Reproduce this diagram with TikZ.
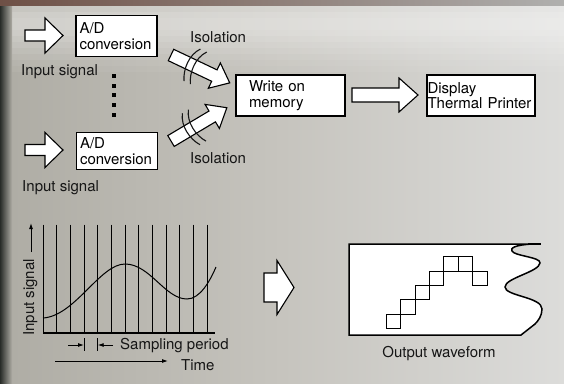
\documentclass[tikz,border=0pt]{standalone}
\usepackage{fontspec}
\setmainfont{TeX Gyre Heros}
\usetikzlibrary{arrows.meta}
\definecolor{bgL}{RGB}{174,172,164}
\definecolor{bgM}{RGB}{198,196,190}
\definecolor{bgR}{RGB}{220,220,218}
\definecolor{ink}{RGB}{22,22,22}
\definecolor{edgeL}{RGB}{40,44,40}
\definecolor{edgeT}{RGB}{110,80,70}
\tikzset{
  lbl/.style={font=\fontsize{15}{15.5}\selectfont, text=ink, inner sep=0pt},
  boxnode/.style={draw=black, fill=white, line width=1.6pt, rectangle, align=left,
    inner ysep=0pt, font=\fontsize{15}{15.5}\selectfont, text=black},
  barrow/.style={draw=black, fill=white, line width=1.1pt, line join=miter},
  isomark/.style={draw=ink, line width=1.1pt},
  grid line/.style={draw=black, line width=0.9pt},
  thin arrow/.style={draw=black, line width=0.9pt, -{Latex[length=6pt,width=4pt]}},
  sq/.style={draw=black, line width=1.1pt}
}
\newcommand{\blockarr}[7]{% tail x, tail y, canvas angle, length, shaft hw, head hw, head length
  \begin{scope}[shift={(#1,#2)},rotate=#3]
    \draw[barrow] (0,-#5) -- ({#4-#7},-#5) -- ({#4-#7},-#6) -- (#4,0) -- ({#4-#7},#6) -- ({#4-#7},#5) -- (0,#5) -- cycle;
  \end{scope}}
\newcommand{\isoarr}[3]{% tail x, tail y, canvas angle
  \begin{scope}[shift={(#1,#2)},rotate=#3]
    \draw[barrow] (0,-6.3) -- (48,-6.3) -- (48,-14) -- (65,0) -- (48,14) -- (48,6.3) -- (0,6.3) -- cycle;
    \draw[isomark] (24,-18) .. controls (16,-8) and (17,8) .. (23,18);
    \draw[isomark] (31,-18) .. controls (23,-8) and (24,8) .. (30,18);
  \end{scope}}
\begin{document}
\begin{tikzpicture}[x=1pt,y=-1pt]
% background
\useasboundingbox (0,0) rectangle (564,383);
\shade[left color=bgL, right color=bgR, middle color=bgM] (0,0) rectangle (564,383);
\foreach \yy/\op in {6/0.30,12/0.38,18/0.42,24/0.42,30/0.38,36/0.32,42/0.26,48/0.20,54/0.14,60/0.09,66/0.05}
  \fill[white, fill opacity=\op] (0,\yy) rectangle (564,\yy+6);
\shade[left color=edgeL, right color=bgL] (0,0) rectangle (12,383);
\shade[left color=edgeT, right color=bgR!80!black] (0,0) rectangle (564,5);

% ---------- top block diagram ----------
\node[boxnode, minimum width=81pt, minimum height=41pt, text width=74pt, inner xsep=3.5pt] (ad1) at (116.5,36) {A/D\\conversion};
\node[boxnode, minimum width=81pt, minimum height=37pt, text width=74pt, inner xsep=3.5pt] (ad2) at (117,151) {A/D\\conversion};
\node[boxnode, minimum width=109pt, minimum height=41pt, text width=83pt, inner xsep=13pt] (mem) at (290.5,95.5) {Write on\\memory};
\node[boxnode, minimum width=108pt, minimum height=41pt, text width=107pt, inner xsep=0.5pt] (disp) at (481,95.5) {Display\\Thermal Printer};

\node[lbl, anchor=base west] (in1) at (21,75) {Input signal};
\node[lbl, anchor=base west] (in2) at (22,191) {Input signal};
\node[lbl, anchor=base west] (iso1) at (190,42) {Isolation};
\node[lbl, anchor=base west] (iso2) at (190,163) {Isolation};

% input arrows
\blockarr{25}{35.5}{0}{38}{5.5}{17.5}{18}
\blockarr{25}{150}{0}{38}{5.5}{17.5}{18}
% isolation arrows
\isoarr{171}{55}{-25.4}
\isoarr{171}{141}{30.8}
% memory to display
\blockarr{352}{95}{0}{66}{7}{17}{19}

% dots
\foreach \dy in {76,85.7,95.3,105,114.7}
  \fill[black] (112,\dy-2) rectangle (116,\dy+2);

% ---------- sampling graph ----------
\foreach \i in {0,...,12}
  \draw[grid line] ({43+13.667*\i},224.5) -- ({43+13.667*\i},333);
\draw[black, line width=1.8pt] (43,333) -- (215,333);
\draw[black, line width=1pt] (43,318) .. controls (75,316) and (100,264) .. (125,264)
  .. controls (150,264) and (165,299) .. (187,299) .. controls (200,299) and (210,281) .. (216,267);
\node[lbl, anchor=base west, rotate=90] (ylab) at (34,336) {Input signal};
\coordinate (yarr0) at (31,252);
\coordinate (yarr1) at (31,223);
\draw[thin arrow] (yarr0) -- (yarr1);

% sampling period
\coordinate (t1) at (84,345);
\coordinate (t2) at (97.7,345);
\draw[black, line width=0.9pt] (84,338) -- (84,351);
\draw[black, line width=0.9pt] (97.7,338) -- (97.7,351);
\draw[thin arrow] (68,345) -- (t1);
\draw[thin arrow] (113,345) -- (t2);
\node[lbl, anchor=base west] (samp) at (120,349.5) {Sampling period};
\draw[thin arrow] (55,361) -- (168,361);
\node[lbl, anchor=base west] (time) at (181,370) {Time};

% big arrow
\blockarr{264}{287.5}{0}{30}{14.5}{27}{17}

% ---------- output waveform ----------
\filldraw[fill=white, draw=black, line width=1.5pt, line join=miter]
  (349,244) -- (532,244) .. controls (515,245) and (510,248) .. (512,251)
  .. controls (514,256) and (541,257) .. (540,263)
  .. controls (539,272) and (505,278) .. (505,287)
  .. controls (505,296) and (542,297) .. (542,309)
  .. controls (542,316) and (538,321) .. (535,324)
  -- (521,335) -- (349,335) -- cycle;
\draw[black, line width=1.5pt] (528,244) -- (541,244);
\foreach \i/\j in {0/0,1/-1,2/-2,3/-3,4/-4,5/-4,6/-3}
  \draw[sq] ({386.3+14.4*\i},{314.3+14.4*\j}) rectangle ++(14.4,14.4);
\node[lbl, anchor=base] (outw) at (439,357) {Output waveform};
\end{tikzpicture}
\end{document}
